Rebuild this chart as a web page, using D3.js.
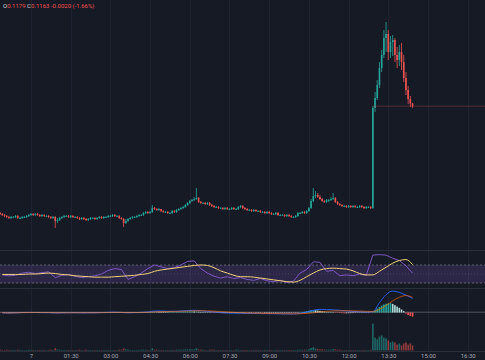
<!DOCTYPE html>
<html><head><meta charset="utf-8">
<script src="https://cdn.jsdelivr.net/npm/d3@7/dist/d3.min.js"></script>
<style>
html,body{margin:0;padding:0;background:#161a25;overflow:hidden}
svg{display:block}
text{font-family:Roboto,"Noto Sans",sans-serif}
</style></head><body>
<svg id="c" width="485" height="360"></svg>
<script>
// ---- data (prices in pips, 1 pip = 0.0001) ----
const PIP = 0.0001;
const startMinute = -70, barMinutes = 5;   // first 5-min bar at 22:50 of previous day
const firstOpen = 522;
const closes = [
516,510,504,498,492,498,498,504,492,492,
498,498,504,510,516,510,516,510,504,510,
504,504,498,492,498,474,480,492,498,504,
504,498,504,498,498,492,486,492,486,480,
486,492,492,486,492,498,492,498,498,504,
504,510,504,504,492,486,462,474,486,492,
498,498,504,510,510,522,528,522,528,552,
546,540,546,534,528,528,522,522,534,528,
540,546,552,558,570,582,594,600,606,612,
588,582,582,576,582,570,564,558,558,552,
552,546,552,546,546,552,546,546,558,564,
552,546,540,540,534,540,534,534,528,528,
522,528,522,516,516,522,510,510,510,504,
510,504,498,498,504,522,522,528,522,534,
552,594,624,630,618,606,594,588,600,600,
606,612,588,576,570,564,564,558,564,558,
564,558,558,564,558,552,558,558,552,1152,
1212,1290,1392,1470,1572,1596,1488,1548,1560,1470,
1440,1488,1428,1332,1260,1206,1179,1163];
const highs = [
528,522,516,510,504,504,504,510,510,498,
504,504,510,516,522,522,522,522,516,516,
516,510,510,504,504,504,492,498,504,510,
510,510,510,510,504,504,498,498,498,492,
492,498,498,498,498,504,504,504,504,510,
510,516,516,510,510,498,492,486,492,498,
504,504,510,516,516,528,534,534,534,570,
558,552,552,546,540,534,534,528,540,540,
546,552,558,564,576,588,600,606,618,672,
618,594,588,588,588,588,576,570,564,564,
558,558,558,558,552,558,558,552,564,570,
570,558,552,546,546,546,546,540,540,534,
534,534,534,528,522,528,528,516,516,516,
516,516,510,504,510,528,528,534,534,540,
558,606,672,654,642,630,612,600,606,606,
618,642,618,594,582,576,570,570,570,570,
570,570,564,570,570,564,564,564,564,1164,
1248,1320,1428,1500,1620,1668,1620,1584,1590,1572,
1518,1530,1542,1470,1368,1284,1224,1183];
const lows = [
510,504,498,492,486,486,492,492,486,486,
486,492,492,498,504,504,504,504,498,498,
498,498,492,486,486,432,462,474,486,492,
498,492,492,492,492,486,480,480,480,474,
474,480,486,480,480,486,486,486,492,492,
498,498,498,498,486,480,438,456,468,480,
486,492,492,498,504,504,516,516,516,522,
540,534,534,528,522,522,516,516,516,522,
522,534,540,546,552,564,576,588,594,600,
582,576,576,570,570,564,558,552,552,546,
546,540,540,540,540,540,540,540,540,552,
546,540,534,534,528,528,528,528,522,522,
516,516,516,510,510,510,504,504,504,498,
498,498,492,492,492,498,516,516,516,516,
528,546,588,612,612,600,588,582,582,588,
594,600,582,570,564,558,558,552,552,552,
552,552,552,552,552,546,546,552,546,546,
1128,1200,1272,1368,1452,1488,1440,1452,1464,1428,
1392,1404,1380,1308,1230,1176,1158,1152];
const volumes = [
3,2,2,3,2,2,2,2,3,2,2,2,2,3,2,2,2,2,2,2,2,2,2,3,2,
8,
4,3,2,2,2,2,2,2,2,2,3,2,2,3,2,2,2,2,2,2,2,2,2,2,2,2,2,2,3,3,
7,
4,3,2,2,2,2,2,3,3,3,2,2,
8,
3,3,2,2,2,2,2,2,2,2,3,3,3,3,4,4,4,4,4,
8,
4,3,3,2,2,3,3,3,2,2,2,2,2,2,2,2,2,3,3,2,2,2,2,2,2,2,2,2,2,2,
2,2,2,2,2,2,2,2,2,2,2,2,2,2,2,3,3,3,3,3,5,
9,12,7,5,4,4,3,3,3,3,5,4,3,
3,2,2,2,2,2,2,2,2,2,2,2,2,2,3,
96,46,40,50,54,46,43,36,29,32,29,21,25,18,25,29,21,25,18];
const macdHist = [
-4,-5,-5,-6,-6,-5,-4,-3,-4,-4,-3,-2,-1,1,2,2,2,1,0,0,-1,-1,-2,-3,-2,
-6,-7,-5,-3,-1,0,0,-1,-1,-1,-2,-3,-3,-3,-4,-4,-3,-2,-2,-2,-1,0,1,1,2,2,3,2,1,-1,-2,
-6,-7,-6,-4,-2,-1,0,1,2,3,4,5,5,
9,10,10,9,8,7,6,5,5,5,6,7,8,9,10,11,12,12,12,11,12,
9,7,5,3,1,0,-2,-4,-5,-6,-7,-7,-7,-6,-6,-5,-4,-4,-3,-2,-2,
-2,-3,-3,-3,-4,-4,-4,-4,-5,-5,-5,-5,-5,-5,-5,-5,-5,-5,-5,-5,-5,-4,-4,-3,-1,
2,5,9,14,20,26,28,26,22,18,14,10,6,3,1,
0,-2,-4,-6,-8,-9,-9,-8,-7,-6,-5,-4,-4,-3,-3,-2,-2,-3,
8,25,45,62,78,90,98,102,104,96,82,66,52,34,15,-12,-28,-40,-46];
// indicator lines, one value every 3 bars starting at bar 1
const indFirst = 1, indStep = 3;
const rsiValues = [48,46,47,52,54,51,53,55,42,47,49,45,42,44,46,50,58,62,60,38,44,52,62,70,66,62,64,70,78,79,62,52,45,41,44,40,42,38,36,40,35,33,36,31,34,52,60,77,76,56,58,46,48,46,50,47,92,93,92,85,80,68,52];
const rsiMA = [49,49,49,49,50,50,51,52,51,49,48,46,45,44,43,43,43,44,45,46,47,49,51,56,59,61,63,65,67,69,70,69,64,57,52,47,44,44,43,41,39,37,35,33,32,36,44,52,59,62,63,62,61,57,51,48,48,56,65,74,80,82,71];
const macdLine = [-5,-6,-4,-1,1,0,-1,-2,-5,-4,-3,-3,-4,-4,-3,-1,2,3,1,-3,-1,2,6,16,16,14,13,17,22,25,20,12,6,0,-5,-8,-9,-10,-11,-12,-13,-14,-15,-16,-17,-10,5,25,35,33,30,24,18,12,8,5,10,110,200,240,225,195,158];
const signalLine = [-4,-5,-4,-2,0,0,-1,-1,-3,-3,-3,-3,-3,-3,-3,-2,0,1,1,-1,-1,0,2,6,9,11,12,14,16,19,20,18,15,11,6,1,-3,-6,-8,-10,-11,-12,-13,-14,-15,-14,-10,-3,6,13,18,20,20,18,16,13,12,35,80,130,170,190,170];
const rsiBands = [70, 50, 30];
const tickMinutes = [0,90,180,270,360,450,540,630,720,810,900,990];
const tickLabels = ["7","01:30","03:00","04:30","06:00","07:30","09:00","10:30","12:00","13:30","15:00","16:30"];
const legendKeys = ["O","C"];
const legendVals = ["0.1179","0.1163"];
const legendChange = "-0.0020 (-1.66%)";
const breakoutBar = 169;   // bar where the price line starts to show

// ---- drawing ----
const W = 485, H = 360;
const UP = "#26a69a", DOWN = "#ef5350";
const svg = d3.select("#c");
svg.append("rect").attr("width", W).attr("height", H).attr("fill", "#161a25");

const x = d3.scaleLinear().domain([-70, 990]).range([0.1, 467.7]);
const yPrice = d3.scaleLinear().domain([0.03, 0.18]).range([250, 0]);
const yRsi = d3.scaleLinear().domain([0, 100]).range([296.5, 251.5]);
const yMacd = d3.scaleLinear().domain([-100, 250]).range([321.43, 290.18]);
const yVol = d3.scaleLinear().domain([0, 100]).range([350.5, 322.5]);

const bars = closes.map((c, i) => {
  const o = i ? closes[i - 1] : firstOpen;
  return { t: startMinute + barMinutes * i, o: o * PIP, c: c * PIP,
    h: Math.max(highs[i], o, c) * PIP, l: Math.min(lows[i], o, c) * PIP,
    v: volumes[i], up: c >= o, hist: macdHist[i], prevHist: i ? macdHist[i - 1] : 0 };
});
const ind = rsiValues.map((r, k) => ({ t: startMinute + barMinutes * (indFirst + indStep * k),
  rsi: r, ma: rsiMA[k], macd: macdLine[k], sig: signalLine[k] }));

const defs = svg.append("defs");
[["main", 0, 250], ["rsi", 251, 37], ["macd", 289, 62]].forEach(([id, y0, h]) =>
  defs.append("clipPath").attr("id", id).append("rect").attr("x", 0).attr("y", y0).attr("width", W).attr("height", h));

// grid
svg.append("g").selectAll("line").data(tickMinutes).join("line")
  .attr("x1", d => Math.round(x(d)) + 0.5).attr("x2", d => Math.round(x(d)) + 0.5)
  .attr("y1", 0).attr("y2", 351).attr("stroke", "#1f2331").attr("stroke-width", 1);
// pane separators
svg.append("g").selectAll("line").data([250.5, 288.5, 351.5]).join("line")
  .attr("x1", 0).attr("x2", W).attr("y1", d => d).attr("y2", d => d)
  .attr("stroke", "#2a2e39").attr("stroke-width", 1);

// main pane: candles
const gMain = svg.append("g").attr("clip-path", "url(#main)");
const bw = 1.6;
gMain.selectAll("line.w").data(bars).join("line").attr("class", "w")
  .attr("x1", d => x(d.t)).attr("x2", d => x(d.t))
  .attr("y1", d => yPrice(d.h)).attr("y2", d => yPrice(d.l))
  .attr("stroke", d => d.up ? UP : DOWN).attr("stroke-width", 0.8);
gMain.selectAll("rect.b").data(bars).join("rect").attr("class", "b")
  .attr("x", d => x(d.t) - bw / 2).attr("width", bw)
  .attr("y", d => yPrice(Math.max(d.o, d.c)))
  .attr("height", d => Math.max(0.8, Math.abs(yPrice(d.o) - yPrice(d.c))))
  .attr("fill", d => d.up ? UP : DOWN);
// last price line
const lastY = yPrice(closes[closes.length - 1] * PIP);
gMain.append("line").attr("x1", x(bars[breakoutBar].t)).attr("x2", W).attr("y1", lastY).attr("y2", lastY)
  .attr("stroke", DOWN).attr("stroke-opacity", 0.4).attr("stroke-width", 0.7);

// legend
const leg = svg.append("text").attr("x", 3).attr("y", 8).attr("font-size", 6);
legendKeys.forEach((k, i) => {
  leg.append("tspan").attr("fill", "#d1d4dc").text((i ? " " : "") + k);
  leg.append("tspan").attr("fill", DOWN).text(legendVals[i]);
});
leg.append("tspan").attr("fill", DOWN).text(" " + legendChange);

// RSI pane
const gR = svg.append("g").attr("clip-path", "url(#rsi)");
gR.append("rect").attr("x", 0).attr("width", W)
  .attr("y", yRsi(rsiBands[0])).attr("height", yRsi(rsiBands[2]) - yRsi(rsiBands[0]))
  .attr("fill", "#7e57c2").attr("fill-opacity", 0.22);
gR.selectAll("line.band").data(rsiBands).join("line").attr("class", "band")
  .attr("x1", 0).attr("x2", W).attr("y1", d => yRsi(d)).attr("y2", d => yRsi(d))
  .attr("stroke", "#787b86").attr("stroke-width", 0.8)
  .attr("stroke-dasharray", d => d === 50 ? "1,2" : "2,2")
  .attr("stroke-opacity", d => d === 50 ? 0.35 : 0.9);
gR.append("path").datum(ind).attr("fill", "none").attr("stroke", "#7e57c2").attr("stroke-width", 1)
  .attr("d", d3.line().x(d => x(d.t)).y(d => yRsi(d.rsi)));
gR.append("path").datum(ind).attr("fill", "none").attr("stroke", "#f2d27a").attr("stroke-width", 1)
  .attr("d", d3.line().curve(d3.curveMonotoneX).x(d => x(d.t)).y(d => yRsi(d.ma)));

// MACD + volume pane
const gM = svg.append("g").attr("clip-path", "url(#macd)");
gM.selectAll("rect.v").data(bars).join("rect").attr("class", "v")
  .attr("x", d => x(d.t) - bw / 2).attr("width", bw)
  .attr("y", d => yVol(d.v)).attr("height", d => yVol(0) - yVol(d.v))
  .attr("fill", d => d.up ? UP : DOWN).attr("fill-opacity", 0.55);
gM.selectAll("rect.h").data(bars).join("rect").attr("class", "h")
  .attr("x", d => x(d.t) - bw / 2).attr("width", bw)
  .attr("y", d => Math.min(yMacd(0), yMacd(d.hist)))
  .attr("height", d => Math.max(0.4, Math.abs(yMacd(d.hist) - yMacd(0))))
  .attr("fill", d => d.hist >= 0 ? (d.hist >= d.prevHist ? "#26a69a" : "#b2dfdb")
                                 : (d.hist < d.prevHist ? "#ff5252" : "#ffcdd2"));
gM.append("path").datum(ind).attr("fill", "none").attr("stroke", "#2962ff").attr("stroke-width", 0.9)
  .attr("d", d3.line().curve(d3.curveMonotoneX).x(d => x(d.t)).y(d => yMacd(d.macd)));
gM.append("path").datum(ind).attr("fill", "none").attr("stroke", "#ff6d00").attr("stroke-width", 0.8)
  .attr("stroke-opacity", 0.8)
  .attr("d", d3.line().curve(d3.curveMonotoneX).x(d => x(d.t)).y(d => yMacd(d.sig)));
gM.append("line").attr("x1", 0).attr("x2", W).attr("y1", yMacd(0) - 0.3).attr("y2", yMacd(0) - 0.3)
  .attr("stroke", "#d1d4dc").attr("stroke-opacity", 0.45).attr("stroke-width", 0.7);

// time axis
const ax = d3.axisBottom(x).tickValues(tickMinutes).tickFormat((d, i) => tickLabels[i]).tickSize(0).tickPadding(2);
const gA = svg.append("g").attr("transform", "translate(0,352)").call(ax);
gA.select(".domain").remove();
gA.selectAll("text").attr("fill", "#a3a6af").attr("font-size", 6).attr("font-family", "Roboto, sans-serif");
</script>
</body></html>
